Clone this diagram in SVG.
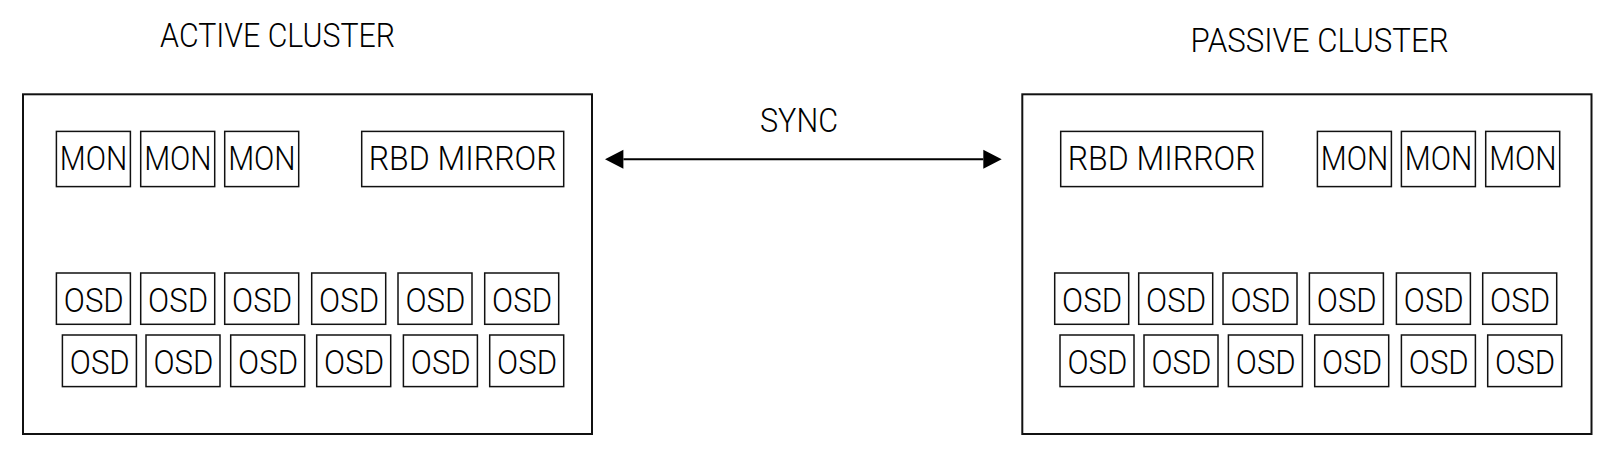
<svg xmlns="http://www.w3.org/2000/svg" width="1615" height="458" viewBox="0 0 1615 458">
  <style>
    .cluster { fill: #ffffff; stroke: #111111; stroke-width: 2; }
    .node { fill: #ffffff; stroke: #111111; stroke-width: 1.5; }
    text { font-family: Roboto, "Liberation Sans", Arial, sans-serif; font-weight: 300; fill: #000000; text-anchor: middle; }
    .title { font-size: 34px; }
    .mon { font-size: 34px; }
    .osd { font-size: 34px; }
    .rbd { font-size: 34px; }
    .conn { stroke: #000000; stroke-width: 2; fill: none; }
  </style>
  <defs>
    <marker id="arrow" markerUnits="userSpaceOnUse" markerWidth="20" markerHeight="20" viewBox="0 -10 20 20" refX="0" refY="0" orient="auto-start-reverse" overflow="visible">
      <path d="M0,-9.5 L18.4,0 L0,9.5 Z" fill="#000000"/>
    </marker>
  </defs>
  <rect width="1615" height="458" fill="#ffffff"/>

  <g id="active-cluster">
    <rect class="cluster" x="23" y="94.3" width="569" height="339.7"/>
    <text class="title" x="277.6" y="47.2" textLength="235" lengthAdjust="spacingAndGlyphs">ACTIVE CLUSTER</text>
  </g>
  <g id="passive-cluster">
    <rect class="cluster" x="1022.3" y="94.3" width="569.2" height="339.7"/>
    <text class="title" x="1319.5" y="52.2" textLength="258" lengthAdjust="spacingAndGlyphs">PASSIVE CLUSTER</text>
  </g>

  <g id="connectors">
    <line class="conn" x1="623.4" y1="159.3" x2="983.3" y2="159.3" marker-start="url(#arrow)" marker-end="url(#arrow)"/>
    <text class="title" x="799" y="131.8" textLength="78" lengthAdjust="spacingAndGlyphs">SYNC</text>
  </g>

  <!-- Active cluster nodes -->
  <g id="a-mon-1"><rect class="node" x="56.4" y="131.4" width="74" height="55.2"/><text class="mon" x="93.6" y="170.3" textLength="67.5" lengthAdjust="spacingAndGlyphs">MON</text></g>
  <g id="a-mon-2"><rect class="node" x="140.7" y="131.4" width="74" height="55.2"/><text class="mon" x="177.9" y="170.3" textLength="67.5" lengthAdjust="spacingAndGlyphs">MON</text></g>
  <g id="a-mon-3"><rect class="node" x="224.7" y="131.4" width="74" height="55.2"/><text class="mon" x="261.9" y="170.3" textLength="67.5" lengthAdjust="spacingAndGlyphs">MON</text></g>
  <g id="a-rbd"><rect class="node" x="361.7" y="131.4" width="202" height="55.2"/><text class="rbd" x="462.7" y="170.3" textLength="188" lengthAdjust="spacingAndGlyphs">RBD MIRROR</text></g>

  <g id="a-osd-1"><rect class="node" x="56.4" y="273" width="74" height="51.3"/><text class="osd" x="93.8" y="311.8" textLength="60" lengthAdjust="spacingAndGlyphs">OSD</text></g>
  <g id="a-osd-2"><rect class="node" x="140.7" y="273" width="74" height="51.3"/><text class="osd" x="178.1" y="311.8" textLength="60" lengthAdjust="spacingAndGlyphs">OSD</text></g>
  <g id="a-osd-3"><rect class="node" x="224.7" y="273" width="74" height="51.3"/><text class="osd" x="262.1" y="311.8" textLength="60" lengthAdjust="spacingAndGlyphs">OSD</text></g>
  <g id="a-osd-4"><rect class="node" x="311.7" y="273" width="74" height="51.3"/><text class="osd" x="349.1" y="311.8" textLength="60" lengthAdjust="spacingAndGlyphs">OSD</text></g>
  <g id="a-osd-5"><rect class="node" x="398" y="273" width="74" height="51.3"/><text class="osd" x="435.4" y="311.8" textLength="60" lengthAdjust="spacingAndGlyphs">OSD</text></g>
  <g id="a-osd-6"><rect class="node" x="484.7" y="273" width="74" height="51.3"/><text class="osd" x="522.1" y="311.8" textLength="60" lengthAdjust="spacingAndGlyphs">OSD</text></g>

  <g id="a-osd-7"><rect class="node" x="62.4" y="335" width="74" height="51.6"/><text class="osd" x="99.8" y="373.6" textLength="60" lengthAdjust="spacingAndGlyphs">OSD</text></g>
  <g id="a-osd-8"><rect class="node" x="146" y="335" width="74" height="51.6"/><text class="osd" x="183.4" y="373.6" textLength="60" lengthAdjust="spacingAndGlyphs">OSD</text></g>
  <g id="a-osd-9"><rect class="node" x="230.7" y="335" width="74" height="51.6"/><text class="osd" x="268.1" y="373.6" textLength="60" lengthAdjust="spacingAndGlyphs">OSD</text></g>
  <g id="a-osd-10"><rect class="node" x="316.7" y="335" width="74" height="51.6"/><text class="osd" x="354.1" y="373.6" textLength="60" lengthAdjust="spacingAndGlyphs">OSD</text></g>
  <g id="a-osd-11"><rect class="node" x="403.4" y="335" width="74" height="51.6"/><text class="osd" x="440.8" y="373.6" textLength="60" lengthAdjust="spacingAndGlyphs">OSD</text></g>
  <g id="a-osd-12"><rect class="node" x="489.7" y="335" width="74" height="51.6"/><text class="osd" x="527.1" y="373.6" textLength="60" lengthAdjust="spacingAndGlyphs">OSD</text></g>

  <!-- Passive cluster nodes -->
  <g id="p-rbd"><rect class="node" x="1060.7" y="131.4" width="202" height="55.2"/><text class="rbd" x="1161.7" y="170.3" textLength="188" lengthAdjust="spacingAndGlyphs">RBD MIRROR</text></g>
  <g id="p-mon-1"><rect class="node" x="1317.4" y="131.4" width="74" height="55.2"/><text class="mon" x="1354.6" y="170.3" textLength="67.5" lengthAdjust="spacingAndGlyphs">MON</text></g>
  <g id="p-mon-2"><rect class="node" x="1401.4" y="131.4" width="74" height="55.2"/><text class="mon" x="1438.6" y="170.3" textLength="67.5" lengthAdjust="spacingAndGlyphs">MON</text></g>
  <g id="p-mon-3"><rect class="node" x="1485.7" y="131.4" width="74" height="55.2"/><text class="mon" x="1522.9" y="170.3" textLength="67.5" lengthAdjust="spacingAndGlyphs">MON</text></g>

  <g id="p-osd-1"><rect class="node" x="1054.7" y="273" width="74" height="51.3"/><text class="osd" x="1092.1" y="311.8" textLength="60" lengthAdjust="spacingAndGlyphs">OSD</text></g>
  <g id="p-osd-2"><rect class="node" x="1138.7" y="273" width="74" height="51.3"/><text class="osd" x="1176.1" y="311.8" textLength="60" lengthAdjust="spacingAndGlyphs">OSD</text></g>
  <g id="p-osd-3"><rect class="node" x="1223" y="273" width="74" height="51.3"/><text class="osd" x="1260.4" y="311.8" textLength="60" lengthAdjust="spacingAndGlyphs">OSD</text></g>
  <g id="p-osd-4"><rect class="node" x="1309.4" y="273" width="74" height="51.3"/><text class="osd" x="1346.8" y="311.8" textLength="60" lengthAdjust="spacingAndGlyphs">OSD</text></g>
  <g id="p-osd-5"><rect class="node" x="1396.4" y="273" width="74" height="51.3"/><text class="osd" x="1433.8" y="311.8" textLength="60" lengthAdjust="spacingAndGlyphs">OSD</text></g>
  <g id="p-osd-6"><rect class="node" x="1482.7" y="273" width="74" height="51.3"/><text class="osd" x="1520.1" y="311.8" textLength="60" lengthAdjust="spacingAndGlyphs">OSD</text></g>

  <g id="p-osd-7"><rect class="node" x="1060" y="335" width="74" height="51.6"/><text class="osd" x="1097.4" y="373.6" textLength="60" lengthAdjust="spacingAndGlyphs">OSD</text></g>
  <g id="p-osd-8"><rect class="node" x="1144" y="335" width="74" height="51.6"/><text class="osd" x="1181.4" y="373.6" textLength="60" lengthAdjust="spacingAndGlyphs">OSD</text></g>
  <g id="p-osd-9"><rect class="node" x="1228.4" y="335" width="74" height="51.6"/><text class="osd" x="1265.8" y="373.6" textLength="60" lengthAdjust="spacingAndGlyphs">OSD</text></g>
  <g id="p-osd-10"><rect class="node" x="1314.7" y="335" width="74" height="51.6"/><text class="osd" x="1352.1" y="373.6" textLength="60" lengthAdjust="spacingAndGlyphs">OSD</text></g>
  <g id="p-osd-11"><rect class="node" x="1401.4" y="335" width="74" height="51.6"/><text class="osd" x="1438.8" y="373.6" textLength="60" lengthAdjust="spacingAndGlyphs">OSD</text></g>
  <g id="p-osd-12"><rect class="node" x="1487.7" y="335" width="74" height="51.6"/><text class="osd" x="1525.1" y="373.6" textLength="60" lengthAdjust="spacingAndGlyphs">OSD</text></g>
</svg>
